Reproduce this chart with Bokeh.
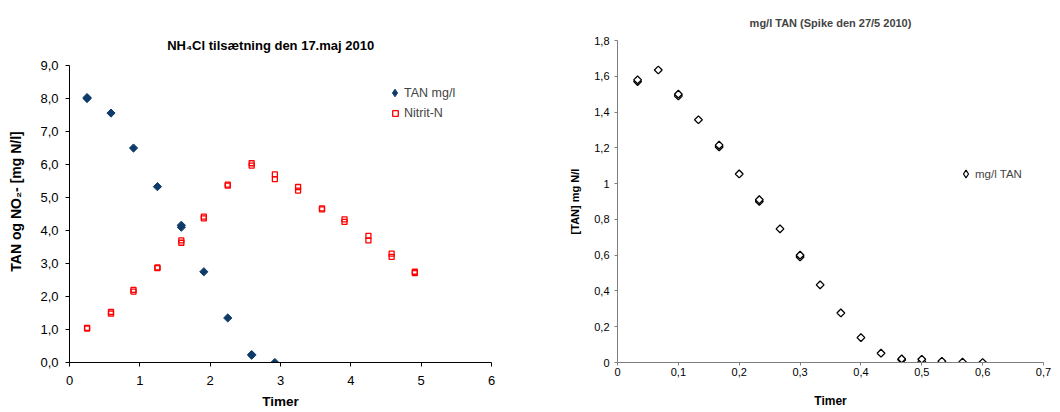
from bokeh.plotting import figure
from bokeh.layouts import row
from bokeh.models import (Range1d, FixedTicker, CustomJSTickFormatter, Legend, LegendItem, Label)
from bokeh.embed import file_html
from bokeh.resources import INLINE

# ---- data: left chart (NH4Cl tilsætning) ----
tan_x = [0.25, 0.25, 0.59, 0.91, 1.25, 1.59, 1.59, 1.91, 2.25, 2.59, 2.59, 2.92]
tan_y = [8.0, 8.03, 7.56, 6.5, 5.33, 4.1, 4.16, 2.75, 1.35, 0.22, 0.24, 0.0]

nitrit_x = [0.25, 0.25, 0.59, 0.59, 0.91, 0.91, 1.25, 1.25, 1.59, 1.59, 1.91, 1.91,
            2.25, 2.25, 2.59, 2.59, 2.92, 2.92, 3.25, 3.25, 3.59, 3.59, 3.91, 3.91,
            4.25, 4.25, 4.58, 4.58, 4.91, 4.91]
nitrit_y = [1.03, 1.05, 1.48, 1.53, 2.15, 2.2, 2.86, 2.88, 3.63, 3.7, 4.37, 4.42,
            5.36, 5.39, 5.97, 6.04, 5.56, 5.70, 5.21, 5.32, 4.64, 4.67, 4.26, 4.34,
            3.70, 3.84, 3.20, 3.30, 2.71, 2.75]

left_xticks = [0, 1, 2, 3, 4, 5, 6]
left_yticks = [0, 1, 2, 3, 4, 5, 6, 7, 8, 9]

# ---- data: right chart (Spike den 27/5 2010) ----
spike_x = [0.033, 0.033, 0.067, 0.1, 0.1, 0.133, 0.167, 0.167, 0.2, 0.233, 0.233,
           0.267, 0.3, 0.3, 0.333, 0.367, 0.4, 0.433, 0.467, 0.467, 0.5, 0.5,
           0.533, 0.567, 0.6]
spike_y = [1.57, 1.58, 1.635, 1.49, 1.50, 1.357, 1.205, 1.215, 1.054, 0.90, 0.91,
           0.747, 0.59, 0.60, 0.434, 0.277, 0.139, 0.052, 0.015, 0.02, 0.005, 0.018,
           0.007, 0.002, 0.0]

right_xticks = [0, 0.1, 0.2, 0.3, 0.4, 0.5, 0.6, 0.7]
right_yticks = [0, 0.2, 0.4, 0.6, 0.8, 1.0, 1.2, 1.4, 1.6, 1.8]

FONT = "Liberation Sans"
TAN_BLUE = "#0F3B6B"
NAN = float("nan")

# both plot frames share the same vertical extent (row layout aligns them);
# the left value axis is drawn only over 0..9, with headroom above for its title
LEFT_Y_END = 9.76


def style_axes(p, color, tick_size, tick_out):
    for ax in (p.xaxis[0], p.yaxis[0]):
        ax.axis_line_color = color
        ax.major_tick_line_color = color
        ax.major_tick_in = 0
        ax.major_tick_out = tick_out
        ax.minor_tick_line_color = None
        ax.major_label_text_font = FONT
        ax.major_label_text_font_size = tick_size
        ax.major_label_text_color = "#000000"
        ax.axis_label_text_font = FONT
        ax.axis_label_text_font_style = "bold"
        ax.axis_label_text_color = "#000000"
    p.grid.visible = False
    p.outline_line_color = None


def make_legend(items, loc, font_size, glyph, standoff):
    return Legend(items=items, location=loc, border_line_color=None, background_fill_alpha=0,
                  label_text_font=FONT, label_text_font_size=font_size,
                  glyph_width=glyph, glyph_height=glyph, label_standoff=standoff,
                  padding=4, spacing=0, label_height=12)


# ---------------- left figure ----------------
p1 = figure(width=530, height=412, output_backend="svg", toolbar_location=None,
            x_range=Range1d(0, 6), y_range=Range1d(0, LEFT_Y_END),
            min_border_left=69, min_border_right=39, min_border_top=40, min_border_bottom=50)

p1.xaxis.ticker = FixedTicker(ticks=left_xticks)
p1.yaxis.ticker = FixedTicker(ticks=left_yticks)
p1.yaxis.bounds = (0, 9)
p1.xaxis.formatter = CustomJSTickFormatter(code="return tick.toFixed(0);")
p1.yaxis.formatter = CustomJSTickFormatter(code="return tick.toFixed(1).replace('.', ',');")
p1.xaxis.axis_label = "Timer"
p1.yaxis.axis_label = "TAN og NO\u2082- [mg N/l]"
style_axes(p1, "#000000", "13px", 4)
p1.xaxis.axis_label_text_font_size = "13.5px"
p1.yaxis.axis_label_text_font_size = "14px"
p1.xaxis.major_label_standoff = 9
p1.yaxis.major_label_standoff = 7
p1.yaxis.axis_label_standoff = 13
p1.xaxis.axis_label_standoff = 6

p1.add_layout(Label(x=2.86, y=9.6, text="NH\u2084Cl tilsætning den 17.maj 2010",
                    text_font=FONT, text_font_size="13px", text_font_style="bold",
                    text_align="center", text_baseline="middle", text_color="#000000"))

r_tan = p1.scatter(tan_x, tan_y, marker="square", angle=0.785398, size=5.8,
                   fill_color=TAN_BLUE, line_color=TAN_BLUE, line_width=1)
r_nit = p1.scatter(nitrit_x, nitrit_y, marker="square", size=5,
                   fill_color="#FFFFFF", fill_alpha=0.0, line_color="#FF0000", line_width=1.3)
# legend swatch for the diamond series (legend does not apply marker rotation)
r_tan_key = p1.scatter(x=[NAN], y=[NAN], marker="diamond", size=10,
                       fill_color=TAN_BLUE, line_color=TAN_BLUE, line_width=1)

p1.add_layout(make_legend([LegendItem(label="TAN mg/l", renderers=[r_tan_key])],
                          (316, 260), "12.5px", 19, 0))
p1.add_layout(make_legend([LegendItem(label="Nitrit-N", renderers=[r_nit])],
                          (319, 242), "12.5px", 14, 2))

# ---------------- right figure ----------------
p2 = figure(width=530, height=412, output_backend="svg", toolbar_location=None,
            x_range=Range1d(0, 0.7), y_range=Range1d(0, 1.8),
            min_border_left=87, min_border_right=17, min_border_top=40, min_border_bottom=50)
p2.title.text = "mg/l TAN (Spike den 27/5 2010)"
p2.title.text_font = FONT
p2.title.text_font_size = "11px"
p2.title.text_font_style = "bold"
p2.title.align = "center"
p2.title.standoff = 23

p2.xaxis.ticker = FixedTicker(ticks=right_xticks)
p2.yaxis.ticker = FixedTicker(ticks=right_yticks)
p2.xaxis.formatter = CustomJSTickFormatter(code="var v = Math.round(tick*10)/10; return v.toString().replace('.', ',');")
p2.yaxis.formatter = CustomJSTickFormatter(code="var v = Math.round(tick*10)/10; return v.toString().replace('.', ',');")
p2.xaxis.axis_label = "Timer"
p2.yaxis.axis_label = "[TAN] mg N/l"
style_axes(p2, "#7F7F7F", "11px", 3)
p2.xaxis.axis_label_text_font_size = "12px"
p2.yaxis.axis_label_text_font_size = "11px"
p2.xaxis.major_label_standoff = 2
p2.yaxis.major_label_standoff = 5
p2.yaxis.axis_label_standoff = 10
p2.xaxis.axis_label_standoff = 15

r_sp = p2.scatter(spike_x, spike_y, marker="square", angle=0.785398, size=5.5,
                  fill_color="#FFFFFF", line_color="#000000", line_width=1.3)
r_sp_key = p2.scatter(x=[NAN], y=[NAN], marker="diamond", size=10,
                      fill_color="#FFFFFF", line_color="#000000", line_width=1.2)

p2.add_layout(make_legend([LegendItem(label="mg/l TAN", renderers=[r_sp_key])],
                          (339, 179), "11.5px", 19, 0))

layout = row(p1, p2)
open("out.html", "w").write(file_html(layout, INLINE))
